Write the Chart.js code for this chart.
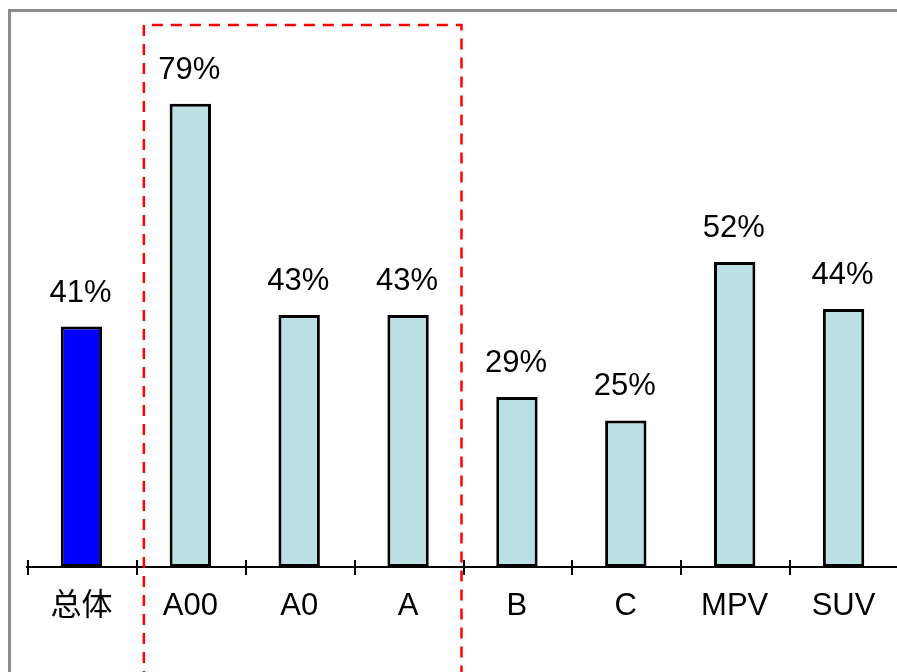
<!DOCTYPE html>
<html>
<head>
<meta charset="utf-8">
<script src="https://cdn.jsdelivr.net/npm/chart.js@4.4.1/dist/chart.umd.min.js"></script>
<style>
    html, body { margin: 0; padding: 0; background: #fff; overflow: hidden; }
    #wrap { position: relative; width: 897px; height: 672px; overflow: hidden; }
    #frame {
        position: absolute; left: 8px; top: 9px; width: 1000px; height: 1000px;
        border-left: 3px solid #8c8c8c; border-top: 3px solid #8c8c8c;
    }
    #salesChart { position: absolute; left: 0; top: 0; }
</style>
</head>
<body>
<div id="wrap">
    <div id="frame"></div>
    <canvas id="salesChart" width="898" height="672"></canvas>
</div>
<script>
// 차종별 비율
const categories = ['总体', 'A00', 'A0', 'A', 'B', 'C', 'MPV', 'SUV'];
const shares = [41, 79, 43, 43, 29, 25, 52, 44];
const barColors = ['#0000ff', '#bae0e3', '#bae0e3', '#bae0e3', '#bae0e3', '#bae0e3', '#bae0e3', '#bae0e3'];
const highlightFrom = 1; // A00 ~ A 강조 박스
const highlightTo = 3;

const FONT = '"Liberation Sans", Arial, "Noto Sans CJK SC", sans-serif';

// 막대 위 % 라벨
const valueLabels = {
    id: 'valueLabels',
    afterDatasetsDraw(chart) {
        const ctx = chart.ctx;
        const meta = chart.getDatasetMeta(0);
        ctx.save();
        ctx.font = '31px ' + FONT;
        ctx.fillStyle = '#000';
        ctx.textAlign = 'center';
        ctx.textBaseline = 'alphabetic';
        meta.data.forEach((bar, i) => {
            ctx.fillText(shares[i] + '%', bar.x - 1, bar.y - 25);
        });
        ctx.restore();
    }
};

// 축 눈금 + 빨간 점선 박스
const axisExtras = {
    id: 'axisExtras',
    afterDraw(chart) {
        const ctx = chart.ctx;
        const x = chart.scales.x;
        const area = chart.chartArea;
        const step = x.getPixelForValue(1) - x.getPixelForValue(0);
        const edge = i => x.getPixelForValue(i) - step / 2;

        ctx.save();
        ctx.strokeStyle = '#000';
        ctx.lineWidth = 2;
        for (let i = 0; i < categories.length; i++) {
            const px = Math.round(edge(i)) + 1;
            ctx.beginPath();
            ctx.moveTo(px, area.bottom - 7);
            ctx.lineTo(px, area.bottom + 8);
            ctx.stroke();
        }

        ctx.strokeStyle = '#ff0000';
        ctx.lineWidth = 2.5;
        ctx.setLineDash([11, 8]);
        const left = edge(highlightFrom) + 8;
        const right = edge(highlightTo + 1) - 1;
        const top = area.top + 15;
        ctx.beginPath();
        ctx.moveTo(left, chart.height + 10);
        ctx.lineTo(left, top);
        ctx.lineTo(right, top);
        ctx.lineTo(right, chart.height + 10);
        ctx.stroke();
        ctx.restore();
    }
};

const salesCtx = document.getElementById('salesChart').getContext('2d');
const salesChart = new Chart(salesCtx, {
    type: 'bar',
    data: {
        labels: categories,
        datasets: [{
            data: shares,
            backgroundColor: barColors,
            borderColor: '#000',
            borderWidth: 3,
            borderSkipped: false,
            categoryPercentage: 1,
            barPercentage: 0.38,
        }],
    },
    options: {
        responsive: false,
        animation: false,
        devicePixelRatio: 1,
        layout: { padding: { left: 27, right: 0, top: 10, bottom: 0 } },
        plugins: {
            legend: { display: false },
            tooltip: { enabled: false },
        },
        scales: {
            x: {
                grid: { display: false, drawTicks: false },
                border: { display: true, color: '#000', width: 2 },
                ticks: {
                    color: '#000',
                    padding: 21,
                    font: { size: 31, family: FONT },
                    maxRotation: 0,
                    autoSkip: false,
                },
                afterFit(scale) {
                    scale.height = 105;
                },
            },
            y: {
                display: false,
                min: 0,
                max: 95,
            },
        },
    },
    plugins: [valueLabels, axisExtras],
});
</script>
</body>
</html>
